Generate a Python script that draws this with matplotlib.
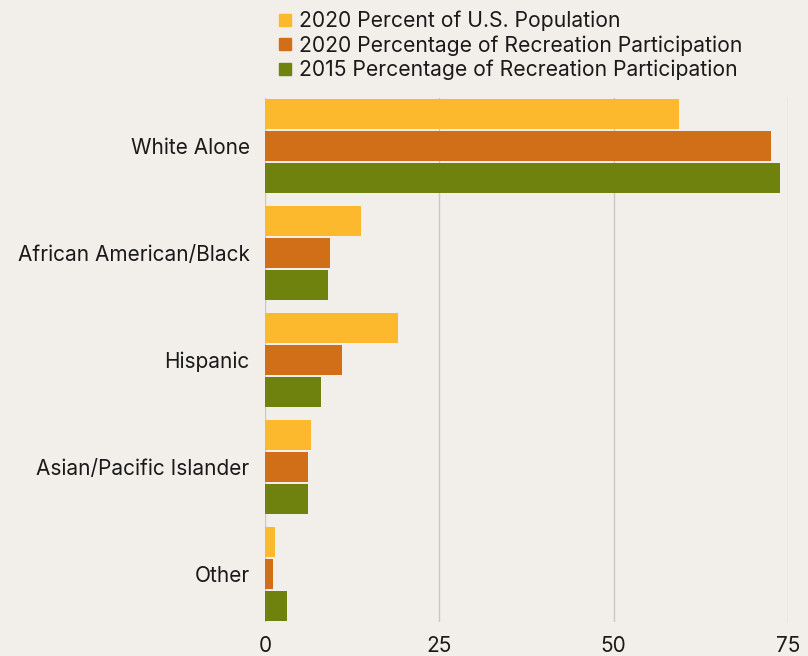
import matplotlib
matplotlib.use("Agg")
import matplotlib.pyplot as plt
import numpy as np
from matplotlib.lines import Line2D

categories = ["White Alone", "African American/Black", "Hispanic", "Asian/Pacific Islander", "Other"]
series_names = ["2020 Percent of U.S. Population",
                "2020 Percentage of Recreation Participation",
                "2015 Percentage of Recreation Participation"]
pop_2020 = [59.3, 13.7, 19.1, 6.6, 1.4]
rec_2020 = [72.6, 9.3, 11.1, 6.1, 1.1]
rec_2015 = [73.9, 9.1, 8.1, 6.1, 3.1]
x_ticks = [0, 25, 50, 75]

colors = ["#FDB92E", "#D06F18", "#6F820D"]
bg = "#F2EEEA"

plt.rcParams['font.family'] = ['Inter', 'DejaVu Sans']

fig = plt.figure(figsize=(8.08, 6.56), dpi=100, facecolor=bg)
ax = fig.add_axes([265/808, 1-622/656, (788-265)/808, (622-98)/656])
ax.set_facecolor(bg)

y = np.arange(len(categories))
h = 0.28
off = 0.30
for i, (vals, c) in enumerate(zip([pop_2020, rec_2020, rec_2015], colors)):
    ax.barh(y + (i-1)*off, vals, height=h, color=c, zorder=3, label=series_names[i])

ax.set_xlim(0, 75)
ax.set_ylim(4.45, -0.45)
ax.set_yticks(y)
ax.set_yticklabels(categories, fontsize=15, color="#1a1a1a")
ax.set_xticks(x_ticks)
ax.set_xticklabels([str(t) for t in x_ticks], fontsize=15, color="#1a1a1a")
ax.tick_params(length=0)
ax.tick_params(axis='y', pad=11)
ax.tick_params(axis='x', pad=10)
ax.xaxis.grid(True, color="#C8C8C8", linewidth=1, zorder=0)
for s in ax.spines.values():
    s.set_visible(False)

handles = [Line2D([0], [0], marker='s', linestyle='none', markersize=8,
                  markerfacecolor=c, markeredgecolor=c) for c in colors]
fig.legend(handles, series_names, loc='upper left', bbox_to_anchor=(266/808, 1-2/656),
           frameon=False, fontsize=15.2, handletextpad=0.15, labelspacing=0.2,
           handlelength=1.0, borderaxespad=0, labelcolor="#1a1a1a")

fig.savefig("out.png", dpi=100, facecolor=bg)
